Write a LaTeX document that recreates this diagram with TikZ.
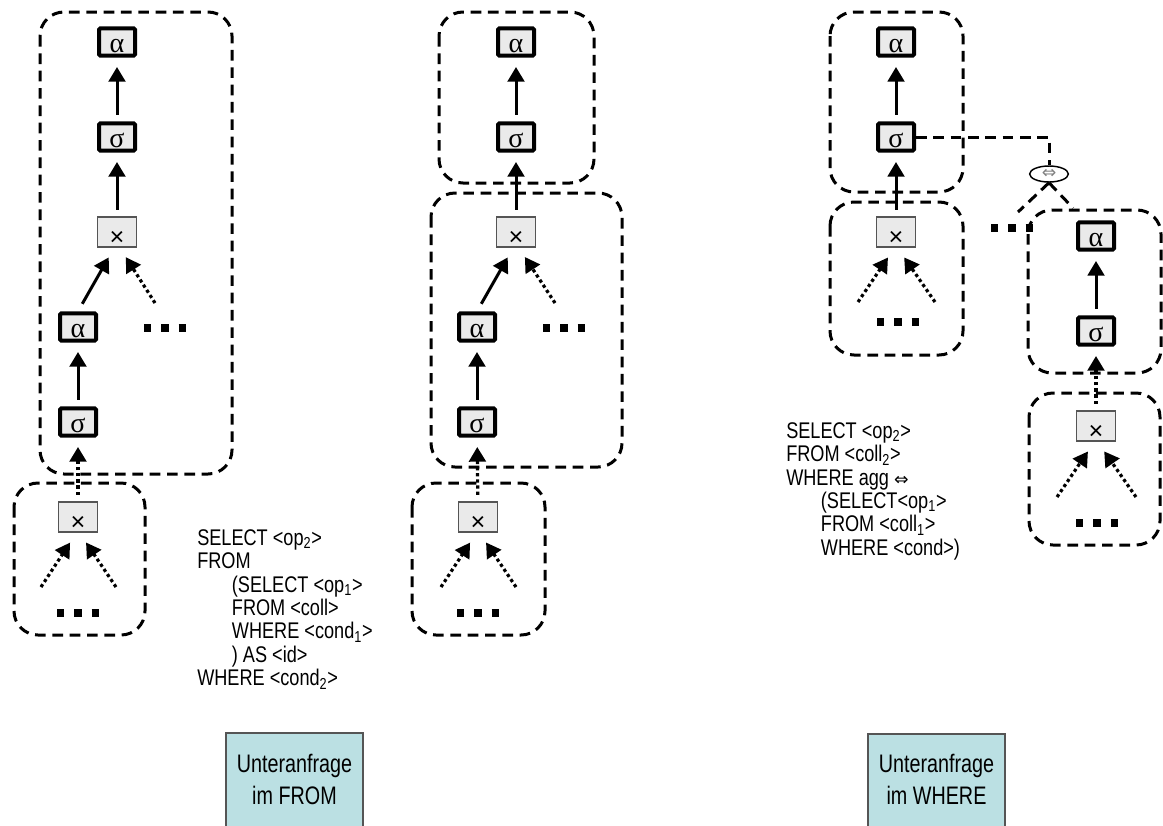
\documentclass[tikz,border=0pt]{standalone}
\usepackage{fontspec}
\setmainfont{Liberation Sans}
\newfontfamily\narrowsans[FakeStretch=0.78]{Liberation Sans}
\newfontfamily\sqlsans[FakeStretch=0.8]{Liberation Sans}
\newfontfamily\greekserif{Liberation Serif}
\newfontfamily\symfont{DejaVu Sans}
\usetikzlibrary{arrows.meta,shapes.geometric}

\definecolor{opfill}{HTML}{EAEAEA}
\definecolor{xedge}{HTML}{555555}
\definecolor{labelfill}{HTML}{BBE0E3}
\definecolor{labeledge}{HTML}{555555}

\tikzset{
  opbox/.style={draw=black, line width=3pt, fill=opfill, rounded corners=1pt,
    minimum width=27pt, minimum height=20.5pt, inner sep=0pt,
    text height=16pt, text depth=0pt,
    font=\greekserif\fontsize{21}{21}\selectfont},
  xbox/.style={draw=xedge, line width=0.8pt, fill=opfill,
    minimum width=29pt, minimum height=22.5pt, inner sep=0pt,
    text height=19.5pt, text depth=0pt,
    font=\fontsize{19}{19}\selectfont},
  grp/.style={draw=black, line width=2.25pt, dash pattern=on 8pt off 5pt,
    rounded corners=18pt},
  grpline/.style={draw=black, line width=2.25pt, dash pattern=on 8pt off 5pt},
  tipshape/.style={-{Triangle[length=11pt,width=12.5pt]}},
  arr/.style={tipshape, line width=2.25pt, shorten <=5pt, shorten >=7pt},
  darr/.style={tipshape, line width=2.4pt, dash pattern=on 2.4pt off 2.2pt,
    shorten <=5pt, shorten >=7pt},
  dots/.style={draw=black, line width=5.6pt, dash pattern=on 5.6pt off 7.4pt},
  cmp/.style={ellipse, draw=black, line width=1.1pt, fill=white,
    minimum width=29pt, minimum height=12pt, inner sep=0pt,
    font=\symfont\fontsize{13}{13}\selectfont, text=gray},
  sql/.style={anchor=north west, inner sep=0pt, align=left,
    font=\sqlsans\fontsize{17}{17.6}\selectfont},
  lblbox/.style={draw=labeledge, line width=0.8pt, fill=labelfill},
  lbltext/.style={align=center, inner sep=0pt,
    font=\narrowsans\fontsize{19}{24}\selectfont}
}

\begin{document}
\begin{tikzpicture}[x=0.75pt,y=-0.75pt]
\clip (0,0) rectangle (1163,825);
\fill[white] (0,0) rectangle (1163,825);

% ---------- subquery in FROM, nested plan ----------
\draw[grp] (40,12) rectangle (232,474);
\node[opbox] (a1) at (117,42) {α};
\node[opbox] (s1) at (117,137) {σ};
\node[xbox]  (x1) at (117,232) {×};
\node[opbox] (a2) at (78,327) {α};
\node[opbox] (s2) at (78,422) {σ};
\draw[dots] (144,328) -- (187,328);
\draw[grp] (14,483) rectangle (145,635);
\node[xbox]  (x2) at (78,517) {×};
\draw[dots] (57,613) -- (100,613);
\coordinate (p1) at (155,303);
\coordinate (p2) at (41,587);
\coordinate (p3) at (116,587);

\draw[arr] (s1) -- (a1);
\draw[arr] (x1) -- (s1);
\draw[arr] (s2) -- (a2);
\draw[arr, shorten <=6.5pt, shorten >=8.5pt] (a2.north) -- ([xshift=-2pt]x1.south);
\draw[darr, shorten <=0pt, shorten >=8.5pt] (p1) -- ([xshift=2pt]x1.south);
\draw[darr] (x2) -- (s2);
\draw[darr, shorten <=0pt, shorten >=9pt] (p2) -- ([xshift=-1pt]x2.south);
\draw[darr, shorten <=0pt, shorten >=9pt] (p3) -- ([xshift=1pt]x2.south);

% ---------- subquery in FROM, split into blocks ----------
\draw[grp] (439,12) rectangle (594,183);
\draw[grp] (431,193) rectangle (622,467);
\node[opbox] (a5) at (516,42) {α};
\node[opbox] (s5) at (516,137) {σ};
\node[xbox]  (x5) at (516,232) {×};
\node[opbox] (a6) at (477,327) {α};
\node[opbox] (s6) at (477,422) {σ};
\draw[dots] (543,328) -- (586,328);
\draw[grp] (412,483) rectangle (545,635);
\node[xbox]  (x6) at (478,517) {×};
\draw[dots] (457,613) -- (500,613);
\coordinate (p5) at (555,303);
\coordinate (p6) at (441,587);
\coordinate (p7) at (516,587);

\draw[arr] (s5) -- (a5);
\draw[arr] (x5) -- (s5);
\draw[arr] (s6) -- (a6);
\draw[arr, shorten <=6.5pt, shorten >=8.5pt] (a6.north) -- ([xshift=-2pt]x5.south);
\draw[darr, shorten <=0pt, shorten >=8.5pt] (p5) -- ([xshift=2pt]x5.south);
\draw[darr] (x6) -- (s6);
\draw[darr, shorten <=0pt, shorten >=9pt] (p6) -- ([xshift=-1pt]x6.south);
\draw[darr, shorten <=0pt, shorten >=9pt] (p7) -- ([xshift=1pt]x6.south);

\node[sql] (q1) at (197,529) {SELECT <op\textsubscript{2}>\\
FROM\\
\hspace*{26pt}(SELECT <op\textsubscript{1}>\\
\hspace*{26pt}FROM <coll>\\
\hspace*{26pt}WHERE <cond\textsubscript{1}>\\
\hspace*{26pt}) AS <id>\\
WHERE <cond\textsubscript{2}>};

% ---------- subquery in WHERE ----------
\draw[grp] (830,12) rectangle (963,192);
\node[opbox] (a7) at (896,42) {α};
\node[opbox] (s7) at (896,137) {σ};
\draw[grp] (830,202) rectangle (963,355);
\node[xbox]  (x7) at (896,232) {×};
\draw[dots] (877,322) -- (920,322);
\coordinate (p9) at (858,302);
\coordinate (p10) at (935,302);

\node[cmp] (e1) at (1049,174) {⇔};
\coordinate (w1) at (1018,212);
\coordinate (w2) at (1073,208);
\draw[grpline] (s7.east) -| (e1.north);
\draw[grpline] (e1.south) -- (w1);
\draw[grpline] (e1.south) -- (w2);
\draw[dots] (991,228) -- (1034,228);

\draw[grp] (1028,210) rectangle (1161,373);
\node[opbox] (a8) at (1096,236) {α};
\node[opbox] (s8) at (1096,331) {σ};
\draw[grp] (1029,393) rectangle (1160,545);
\node[xbox]  (x8) at (1096,426) {×};
\draw[dots] (1076,523) -- (1119,523);
\coordinate (p11) at (1057,497);
\coordinate (p12) at (1136,497);

\draw[arr] (s7) -- (a7);
\draw[arr] (x7) -- (s7);
\draw[darr, shorten <=0pt, shorten >=9pt] (p9) -- ([xshift=-1pt]x7.south);
\draw[darr, shorten <=0pt, shorten >=9pt] (p10) -- ([xshift=1pt]x7.south);
\draw[arr] (s8) -- (a8);
\draw[darr] (x8) -- (s8);
\draw[darr, shorten <=0pt, shorten >=9pt] (p11) -- ([xshift=-1pt]x8.south);
\draw[darr, shorten <=0pt, shorten >=9pt] (p12) -- ([xshift=1pt]x8.south);

\node[sql] (q2) at (786,422) {SELECT <op\textsubscript{2}>\\
FROM <coll\textsubscript{2}>\\
WHERE agg {\symfont\fontsize{13}{13}\selectfont ⇔}\\
\hspace*{26pt}(SELECT<op\textsubscript{1}>\\
\hspace*{26pt}FROM <coll\textsubscript{1}>\\
\hspace*{26pt}WHERE <cond>)};

% ---------- captions ----------
\draw[lblbox] (226,733) rectangle (363,840);
\node[lbltext] (t1) at (294.5,779) {Unteranfrage\\im FROM};
\draw[lblbox] (868,734) rectangle (1005,840);
\node[lbltext] (t2) at (936.5,779) {Unteranfrage\\im WHERE};
\end{tikzpicture}
\end{document}
